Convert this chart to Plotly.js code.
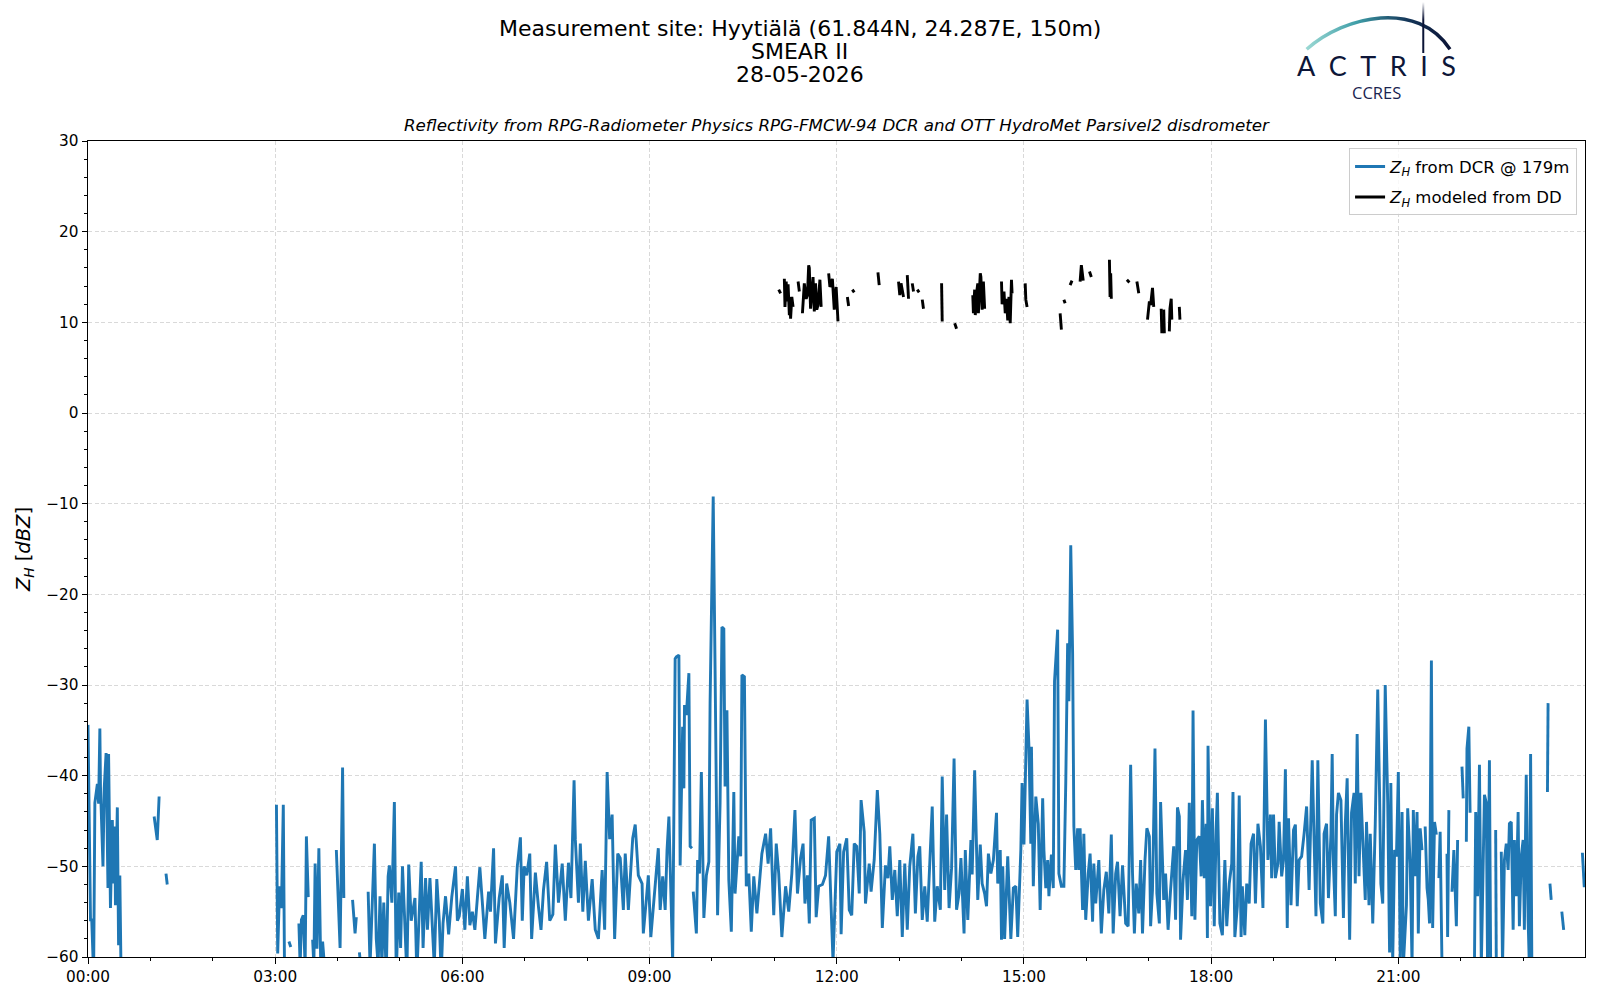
<!DOCTYPE html>
<html>
<head>
<meta charset="utf-8">
<script src="https://cdn.plot.ly/plotly-3.0.1.min.js"></script>
<style>
  html, body { margin: 0; padding: 0; background: #fff; }
  #chart { width: 1600px; height: 1000px; }
</style>
</head>
<body>
<div id="chart"></div>
<script>
// [hour of day, Zh dBZ]; null = no data (breaks the line)
var dcrRecords = [
  [0.00,-34.4],[0.04,-55.9],[0.06,-55.9],[0.09,-62],[0.11,-43.0],[0.13,-42.0],[0.15,-40.9],[0.17,-43.1],[0.19,-34.8],[0.20,-41.2],
  [0.24,-50.0],[0.26,-41.4],[0.29,-37.5],[0.32,-52.4],[0.33,-37.6],[0.36,-54.6],[0.39,-44.9],[0.41,-51.9],[0.43,-45.6],[0.44,-54.3],
  [0.47,-43.5],[0.49,-58.7],[0.51,-51.0],[0.53,-62],[0.58,null],
  [1.06,-44.5],[1.09,-46.5],[1.11,-47.1],[1.14,-42.3],[1.18,null],[1.25,-50.8],[1.27,-52.0],[1.30,null],
  [3.02,-43.2],[3.04,-59.6],[3.07,-52.2],[3.10,-54.6],[3.13,-43.2],[3.15,-62],[3.18,null],[3.22,-58.3],[3.25,-58.9],[3.28,null],
  [3.38,-56.3],[3.40,-61],[3.42,-55.9],[3.45,-55.4],[3.48,-61],[3.50,-46.7],[3.53,-53.4],[3.56,null],
  [3.60,-58.1],[3.62,-61],[3.64,-49.7],[3.67,-59.1],[3.70,-48.0],[3.73,-61],[3.76,-58.3],[3.79,-61],[3.82,null],
  [3.98,-48.2],[4.04,-59.0],[4.08,-39.1],[4.10,-53.5],[4.13,null],[4.24,-53.7],[4.28,-57.4],[4.30,-55.6],[4.32,null],
  [4.35,-59.5],[4.37,-61],[4.39,null],
  [4.49,-52.8],[4.52,-61],[4.56,-53.3],[4.59,-47.5],[4.62,-58],[4.65,-61],[4.68,-53.3],[4.71,-61],[4.74,-54.0],[4.78,-62],
  [4.81,-51.1],[4.83,-49.9],[4.87,-54.0],[4.91,-42.9],[4.94,-62],[4.98,-52.9],
  [5.01,-59],[5.04,-50.0],[5.07,-55],[5.11,-62],[5.14,-49.8],[5.18,-56],[5.24,-53.5],[5.27,-62],[5.34,-49.5],[5.37,-59],
  [5.41,-51.3],[5.44,-57],[5.48,-51.3],[5.52,-56.7],[5.55,-61],[5.59,-51.4],[5.63,-56],[5.66,-62],[5.69,-56.3],[5.73,-53.3],
  [5.78,-57.5],[5.83,-53.4],[5.89,-50.0],[5.92,-56],[5.95,-55.5],
  [6.00,-52.5],[6.04,-57],[6.08,-51.1],[6.12,-56.5],[6.16,-55],[6.20,-57],[6.24,-53.5],[6.28,-50.1],[6.32,-54],[6.36,-58],
  [6.42,-52.8],[6.45,-55],[6.50,-48.0],[6.53,-58.5],[6.59,-53.5],[6.64,-51.0],[6.67,-59],[6.71,-51.9],[6.76,-54],[6.82,-58],
  [6.88,-50.0],[6.93,-46.8],[6.96,-56],[6.99,-50.0],
  [7.03,-51.0],[7.08,-48.6],[7.11,-58],[7.17,-50.7],[7.22,-54.5],[7.26,-57],[7.30,-52.6],[7.35,-49.5],[7.40,-56],[7.45,-55.3],
  [7.49,-47.6],[7.54,-54],[7.60,-49.7],[7.65,-56],[7.70,-49.6],[7.74,-53.5],[7.79,-40.5],[7.81,-47],[7.86,-54],[7.89,-47.5],
  [7.93,-55],[7.97,-49.4],
  [8.02,-56],[8.08,-51.4],[8.13,-57],[8.18,-58],[8.24,-50.4],[8.28,-57],[8.32,-39.6],[8.36,-47],[8.40,-44.3],[8.44,-58],
  [8.49,-48.6],[8.53,-49.1],[8.58,-54.8],[8.61,-48.6],[8.66,-54.8],[8.73,-46.9],[8.77,-45.4],[8.82,-51.0],[8.88,-51.9],[8.90,-57.4],
  [8.95,-53.5],[8.98,-51.0],
  [9.02,-57.8],[9.06,-54.4],[9.11,-49.7],[9.14,-48.0],[9.17,-54.8],[9.21,-51.1],[9.25,-54.8],[9.28,-48.2],[9.31,-44.5],[9.33,-50.8],
  [9.37,-60.5],[9.41,-27.1],[9.43,-26.9],[9.47,-26.7],[9.49,-49.9],[9.53,-34.6],[9.55,-41.4],[9.56,-32.2],[9.59,-33.3],[9.63,-28.7],
  [9.65,-47.8],[9.68,-48.0],[9.69,null],[9.70,-52.8],[9.75,-57.4],[9.77,-49.3],[9.80,-50.8],[9.83,-39.6],[9.87,-55.7],[9.91,-51.0],
  [9.95,-49.5],[9.97,-32.0],
  [10.02,-9.2],[10.05,-28.4],[10.09,-55.4],[10.13,-43.0],[10.16,-23.6],[10.19,-23.8],[10.21,-41.2],[10.24,-32.8],[10.27,-51.5],[10.31,-57.2],
  [10.35,-41.8],[10.37,-53.0],[10.43,-46.7],[10.46,-48.9],[10.48,-28.9],[10.52,-29.1],[10.55,-52.2],[10.59,-50.8],[10.63,-57.2],[10.67,-51.1],
  [10.72,-55.2],[10.80,-48.6],[10.86,-46.4],[10.90,-49.7],[10.94,-45.8],[10.99,-55.4],
  [11.03,-47.5],[11.07,-50.8],[11.12,-57.8],[11.18,-52.2],[11.23,-55.0],[11.28,-50.8],[11.33,-43.8],[11.37,-53.0],[11.42,-49.1],[11.46,-47.5],
  [11.49,-54.1],[11.53,-51.0],[11.56,-56.3],[11.59,-44.9],[11.64,-44.7],[11.67,-55.6],[11.71,-52.2],[11.77,-52.0],[11.82,-51.0],[11.87,-46.7],
  [11.91,-55.2],[11.94,-60.5],
  [12.00,-48.4],[12.05,-47.5],[12.07,-57.5],[12.11,-48.4],[12.16,-46.9],[12.20,-54.8],[12.24,-55.4],[12.28,-47.5],[12.32,-47.8],[12.36,-53.0],
  [12.39,-42.7],[12.44,-46.2],[12.46,-54.1],[12.52,-49.7],[12.55,-52.8],[12.60,-49.3],[12.65,-41.6],[12.69,-46.4],[12.73,-56.8],[12.78,-49.9],
  [12.82,-51.3],[12.85,-47.8],[12.89,-53.7],[12.93,-50.4],[12.97,-55.5],
  [13.01,-49.3],[13.05,-57.8],[13.09,-49.7],[13.13,-57.0],[13.17,-50.0],[13.22,-46.4],[13.26,-55.2],[13.30,-48.9],[13.33,-47.8],[13.37,-55.9],
  [13.41,-52.2],[13.45,-56.1],[13.49,-49.9],[13.53,-43.4],[13.57,-56.1],[13.61,-52.2],[13.66,-54.8],[13.69,-40.1],[13.73,-52.6],[13.76,-44.3],
  [13.80,-54.6],[13.84,-50.2],[13.88,-38.1],[13.92,-54.8],[13.96,-53.0],[13.99,-49.1],
  [14.04,-57.4],[14.06,-48.2],[14.10,-55.9],[14.15,-47.1],[14.17,-50.9],[14.21,-39.4],[14.26,-53.7],[14.30,-47.6],[14.33,-51.9],[14.37,-53.0],
  [14.40,-54.4],[14.43,-48.6],[14.47,-50.8],[14.51,-49.3],[14.56,-44.1],[14.58,-51.9],[14.62,-48.2],[14.64,-58.1],[14.66,-50.0],[14.69,-58.0],
  [14.74,-48.9],[14.79,-58.0],[14.83,-52.4],[14.87,-52.2],[14.90,-57.8],[14.95,-48.2],[14.97,-40.8],
  [15.00,-47.6],[15.05,-31.6],[15.08,-36.8],[15.11,-47.5],[15.12,-36.8],[15.15,-52.2],[15.19,-42.3],[15.23,-45.3],[15.26,-54.8],[15.30,-42.5],
  [15.32,-48.2],[15.35,-52.4],[15.38,-49.3],[15.40,-53.3],[15.44,-48.7],[15.47,-52.4],[15.49,-29.6],[15.54,-23.9],[15.56,-50.8],[15.60,-52.2],
  [15.64,-52.2],[15.67,-40.8],[15.70,-25.4],[15.72,-31.8],[15.75,-14.6],[15.78,-26.5],[15.80,-45.6],[15.83,-50.4],[15.86,-45.8],[15.88,-50.4],
  [15.90,-45.8],[15.94,-54.8],[15.96,-46.4],[15.99,-55.9],
  [16.03,-50.8],[16.06,-48.6],[16.10,-56.1],[16.12,-49.7],[16.15,-54.1],[16.20,-49.3],[16.24,-57.4],[16.28,-52.6],[16.32,-50.6],[16.36,-55.2],
  [16.40,-46.5],[16.43,-57.4],[16.47,-50.8],[16.50,-49.5],[16.54,-55.5],[16.58,-49.9],[16.63,-56.3],[16.67,-56.6],[16.71,-38.8],[16.74,-50.8],
  [16.77,-57.4],[16.80,-51.9],[16.84,-55.2],[16.87,-49.3],[16.90,-57.4],[16.94,-49.3],[16.97,-45.8],
  [17.01,-46.7],[17.03,-56.6],[17.06,-52.6],[17.10,-37.0],[17.13,-53.0],[17.17,-56.3],[17.19,-42.9],[17.24,-53.7],[17.27,-50.8],[17.31,-57.0],
  [17.35,-52.6],[17.40,-47.8],[17.43,-55.9],[17.46,-43.5],[17.49,-44.5],[17.51,-58.1],[17.55,-51.5],[17.59,-48.2],[17.62,-53.7],[17.65,-43.0],
  [17.69,-55.5],[17.71,-32.8],[17.74,-55.9],[17.77,-47.1],[17.81,-46.7],[17.84,-51.1],[17.86,-42.7],[17.89,-51.3],[17.92,-45.3],[17.94,-57.9],
  [17.95,-36.7],[17.99,-54.4],
  [18.02,-43.6],[18.05,-56.6],[18.08,-46.0],[18.10,-41.9],[18.14,-56.3],[18.18,-57.6],[18.22,-49.3],[18.25,-56.6],[18.29,-51.9],[18.33,-49.7],
  [18.35,-41.8],[18.38,-57.8],[18.42,-54.4],[18.45,-42.2],[18.48,-57.8],[18.50,-52.2],[18.54,-57.6],[18.57,-51.9],[18.61,-54.1],[18.64,-47.5],
  [18.68,-46.4],[18.71,-54.1],[18.75,-45.3],[18.79,-47.8],[18.83,-54.6],[18.87,-33.8],[18.91,-49.3],[18.95,-44.3],[18.97,-51.3],
  [19.00,-44.3],[19.03,-51.3],[19.07,-49.7],[19.09,-45.1],[19.13,-51.1],[19.16,-49.3],[19.19,-39.3],[19.22,-56.8],[19.24,-44.7],[19.28,-54.3],
  [19.32,-46.0],[19.35,-45.4],[19.38,-54.4],[19.41,-49.3],[19.45,-48.9],[19.49,-46.4],[19.53,-43.4],[19.57,-52.6],[19.62,-38.3],[19.65,-47.1],
  [19.68,-55.5],[19.71,-38.3],[19.75,-54.1],[19.79,-56.3],[19.81,-46.4],[19.85,-45.3],[19.88,-53.5],[19.92,-46.4],[19.94,-37.6],[19.96,-49.7],
  [19.99,-55.5],
  [20.01,-44.3],[20.04,-41.9],[20.08,-42.7],[20.12,-55.7],[20.15,-45.3],[20.18,-40.3],[20.22,-58.1],[20.25,-44.1],[20.29,-41.9],[20.31,-51.9],
  [20.34,-35.4],[20.37,-51.1],[20.40,-41.9],[20.44,-48.6],[20.47,-53.7],[20.49,-45.1],[20.53,-54.3],[20.55,-46.4],[20.59,-56.3],[20.63,-45.4],
  [20.67,-30.5],[20.70,-42.3],[20.72,-51.9],[20.75,-54.1],[20.79,-30.0],[20.83,-43.0],[20.86,-59.5],[20.88,-40.8],[20.91,-60.5],[20.94,-48.2],
  [20.97,-48.9],
  [21.00,-39.6],[21.03,-60],[21.06,-44.0],[21.08,-61],[21.13,-54.3],[21.15,-43.6],[21.19,-49.7],[21.22,-61],[21.24,-43.8],[21.27,-51.1],
  [21.30,-44.0],[21.32,-57.4],[21.35,-45.8],[21.38,-48.2],[21.40,null],[21.43,-45.6],[21.46,-52.4],[21.48,-53.7],[21.50,-56.3],[21.53,-27.3],
  [21.55,-56.8],[21.58,-45.1],[21.61,-46.5],[21.63,null],[21.65,-51.3],[21.67,-46.2],[21.70,-61],[21.73,null],[21.78,-48.6],[21.79,-57.8],
  [21.81,-43.8],[21.83,null],[21.86,-52.8],[21.89,-48.2],[21.93,-56.6],[21.95,-47.1],[21.98,null],
  [22.02,-39.0],[22.04,-42.5],[22.06,null],[22.09,-47.3],[22.10,-37.0],[22.13,-34.6],[22.15,-44.1],[22.18,null],[22.22,-61],[22.24,-44.0],
  [22.27,-53.3],[22.30,-38.8],[22.33,-61],[22.36,-49.7],[22.38,-42.1],[22.41,-43.0],[22.43,-61],[22.46,-38.3],[22.48,-61],[22.51,null],
  [22.56,-46.0],[22.57,-61],[22.60,null],[22.65,-48.4],[22.67,-61],[22.70,-49.3],[22.73,-47.5],[22.76,-50.4],[22.78,-45.3],[22.81,-45.1],
  [22.84,-57.0],[22.86,-47.1],[22.89,-53.3],[22.92,-44.0],[22.94,-56.6],[22.97,-48.9],
  [23.00,-47.1],[23.02,-57.0],[23.05,-39.9],[23.08,-55.9],[23.10,-61],[23.12,-37.6],[23.14,-61],[23.17,null],
  [23.39,-41.8],[23.40,-32.0],[23.42,null],[23.43,-51.9],[23.45,-53.7],[23.47,null],
  [23.62,-55.0],[23.65,-57.0],[23.67,null],[23.95,-48.5],[23.98,-52.3]
];

var ddRecords = [
  [11.07,13.6],[11.10,13.2],[11.12,null],
  [11.16,14.8],[11.17,11.7],[11.19,14.5],[11.20,12.3],[11.22,14.2],[11.24,10.8],[11.25,12.8],[11.26,10.4],[11.28,12.8],[11.30,11.7],[11.32,null],
  [11.38,14.5],[11.40,13.4],[11.42,null],
  [11.45,11.0],[11.48,14.3],[11.51,12.6],[11.53,13.0],[11.55,16.3],[11.56,16.0],[11.58,11.5],[11.62,15.0],[11.64,11.2],[11.66,14.3],
  [11.68,11.4],[11.70,11.9],[11.73,14.7],[11.75,11.7],[11.77,null],
  [11.87,15.4],[11.89,13.9],[11.93,14.8],[11.96,11.4],[11.99,13.9],[12.02,10.1],[12.03,null],
  [12.17,12.8],[12.19,11.8],[12.21,null],[12.25,13.6],[12.28,13.3],[12.30,null],
  [12.66,15.5],[12.68,14.1],[12.70,null],
  [12.99,14.5],[13.01,13.0],[13.03,14.3],[13.05,13.6],[13.07,12.8],[13.09,null],
  [13.13,15.2],[13.15,12.6],[13.17,null],[13.21,14.3],[13.23,13.4],[13.25,null],
  [13.29,13.6],[13.32,13.3],[13.34,null],[13.37,12.5],[13.39,11.5],[13.41,null],
  [13.68,14.3],[13.69,10.1],[13.71,null],[13.89,9.9],[13.92,9.3],[13.94,null],
  [14.18,13.0],[14.19,11.0],[14.21,13.6],[14.22,10.8],[14.24,13.2],[14.26,14.3],[14.27,11.0],[14.30,15.4],[14.31,15.0],[14.33,11.4],
  [14.35,14.5],[14.37,11.5],[14.39,null],
  [14.64,14.5],[14.65,12.0],[14.68,13.4],[14.70,11.0],[14.72,12.6],[14.74,10.2],[14.76,12.8],[14.78,9.9],[14.80,14.7],[14.81,13.2],[14.83,null],
  [15.02,14.3],[15.03,12.5],[15.05,11.7],[15.07,null],
  [15.58,11.0],[15.60,9.2],[15.62,null],[15.64,12.5],[15.66,12.1],[15.68,null],
  [15.74,14.1],[15.77,14.6],[15.79,null],[15.90,14.5],[15.92,16.3],[15.95,14.6],[15.97,null],
  [16.05,15.6],[16.08,15.0],[16.10,null],
  [16.37,16.9],[16.38,12.8],[16.39,15.4],[16.40,12.6],[16.42,null],
  [16.65,14.7],[16.69,14.4],[16.71,null],[16.81,14.5],[16.84,13.2],[16.86,null],
  [16.98,10.3],[17.01,12.3],[17.03,11.9],[17.06,13.8],[17.08,11.7],[17.10,null],
  [17.20,11.5],[17.21,8.8],[17.23,null],[17.24,11.4],[17.25,8.8],[17.27,null],
  [17.33,9.0],[17.34,11.5],[17.36,12.6],[17.37,10.3],[17.39,null],
  [17.49,11.7],[17.50,10.3]
];

var day = '2026-05-28';
var titleLines = ['Measurement site: Hyytiälä (61.844N, 24.287E, 150m)', 'SMEAR II', '28-05-2026'];
var subTitle = 'Reflectivity from RPG-Radiometer Physics RPG-FMCW-94 DCR and OTT HydroMet Parsivel2 disdrometer';
var seriesNames = ['<i>Z</i><sub><i>H</i></sub> from DCR @ 179m', '<i>Z</i><sub><i>H</i></sub> modeled from DD'];

function stamp(h) {
  var s = Math.round(h * 3600);
  var pad = n => String(n).padStart(2, '0');
  return day + ' ' + pad(Math.floor(s / 3600)) + ':' + pad(Math.floor(s % 3600 / 60)) + ':' + pad(s % 60);
}

var dcrTime = dcrRecords.map(r => stamp(r[0]));
var dcrZh = dcrRecords.map(r => r[1]);
var ddTime = ddRecords.map(r => stamp(r[0]));
var ddZh = ddRecords.map(r => r[1]);

var traces = [
  {
    x: dcrTime, y: dcrZh, type: 'scatter', mode: 'lines',
    name: seriesNames[0], legendgroup: 'dcr',
    line: {color: '#1f77b4', width: 2.9}
  },
  {
    x: ddTime, y: ddZh, type: 'scatter', mode: 'lines',
    name: seriesNames[1], legendgroup: 'dd',
    line: {color: '#000000', width: 2.9}
  }
];

// logo arc (decoration only)
var arcSvg = '<svg xmlns="http://www.w3.org/2000/svg" width="160" height="60" viewBox="0 0 160 60">' +
  '<defs><linearGradient id="g" x1="0" y1="0" x2="1" y2="0">' +
  '<stop offset="0" stop-color="#9ad8d3"/><stop offset="0.35" stop-color="#3f9ea8"/>' +
  '<stop offset="0.7" stop-color="#15375a"/><stop offset="1" stop-color="#0b1436"/></linearGradient>' +
  '<linearGradient id="v" x1="0" y1="0" x2="0" y2="1"><stop offset="0" stop-color="#ffffff"/>' +
  '<stop offset="0.35" stop-color="#0b1436"/></linearGradient></defs>' +
  '<path d="M6.7 49.3 C45 15 118 0 150 49.3" fill="none" stroke="url(#g)" stroke-width="3.4"/>' +
  '<rect x="122.3" y="2" width="2" height="51" fill="url(#v)"/></svg>';

var gridStyle = {gridcolor: '#d9d9d9', griddash: '4px,2.5px', gridwidth: 1};

var layout = {
  width: 1600,
  height: 1000,
  margin: {l: 88, r: 15, t: 141, b: 43},
  paper_bgcolor: '#ffffff',
  plot_bgcolor: '#ffffff',
  font: {family: 'DejaVu Sans', color: '#000000', size: 15.3},
  showlegend: true,
  legend: {
    x: 0.9947, y: 0.991, xanchor: 'right', yanchor: 'top',
    bgcolor: 'rgba(255,255,255,0.8)', bordercolor: '#cccccc', borderwidth: 1,
    font: {size: 16.5}, tracegroupgap: 6, traceorder: 'grouped'
  },
  xaxis: Object.assign({
    type: 'date',
    range: [day + ' 00:00:00', day + ' 23:59:30'],
    tick0: day + ' 00:00:00', dtick: 3 * 3600000, tickformat: '%H:%M',
    ticks: 'outside', ticklen: 5.5, tickwidth: 1, tickcolor: '#000',
    minor: {dtick: 3600000, ticks: 'outside', ticklen: 3, tickcolor: '#000', showgrid: false},
    showline: true, linecolor: '#000', linewidth: 1, mirror: true,
    zeroline: false
  }, gridStyle),
  yaxis: Object.assign({
    range: [-60, 30], dtick: 10, tick0: 0,
    ticks: 'outside', ticklen: 5.5, tickwidth: 1, tickcolor: '#000',
    minor: {dtick: 2, ticks: 'outside', ticklen: 3, tickcolor: '#000', showgrid: false},
    showline: true, linecolor: '#000', linewidth: 1, mirror: true,
    zeroline: false,
    title: {text: '<i>Z</i><sub><i>H</i></sub> [<i>dBZ</i>]', font: {size: 19.5}, standoff: 10}
  }, gridStyle),
  annotations: [
    {text: titleLines[0], xref: 'paper', yref: 'paper', x: 0.4756, y: 1.1373, xanchor: 'center', yanchor: 'middle', showarrow: false, font: {size: 22}},
    {text: titleLines[1], xref: 'paper', yref: 'paper', x: 0.4756, y: 1.1097, xanchor: 'center', yanchor: 'middle', showarrow: false, font: {size: 22}},
    {text: titleLines[2], xref: 'paper', yref: 'paper', x: 0.4756, y: 1.0821, xanchor: 'center', yanchor: 'middle', showarrow: false, font: {size: 22}},
    {text: '<i>' + subTitle + '</i>', xref: 'paper', yref: 'paper', x: 0.5, y: 1.019, xanchor: 'center', yanchor: 'middle', showarrow: false, font: {size: 16.7}},
    {text: 'A\u2002C\u2002T\u2002R\u2002I\u2002S', xref: 'paper', yref: 'paper', x: 0.8604, y: 1.0925, xanchor: 'center', yanchor: 'middle', showarrow: false, font: {family: 'Lato', size: 27, color: '#0d1638'}},
    {text: 'CCRES', xref: 'paper', yref: 'paper', x: 0.8604, y: 1.0595, xanchor: 'center', yanchor: 'middle', showarrow: false, font: {family: 'Open Sans', size: 16.5, color: '#1a2450'}}
  ],
  images: [{
    source: 'data:image/svg+xml;charset=utf-8,' + encodeURIComponent(arcSvg),
    xref: 'paper', yref: 'paper', x: 0.8096, y: 1.1728, sizex: 0.10688, sizey: 0.07353,
    xanchor: 'left', yanchor: 'top', sizing: 'stretch', layer: 'above'
  }]
};

Plotly.newPlot('chart', traces, layout, {displayModeBar: false, staticPlot: true});
</script>
</body>
</html>
